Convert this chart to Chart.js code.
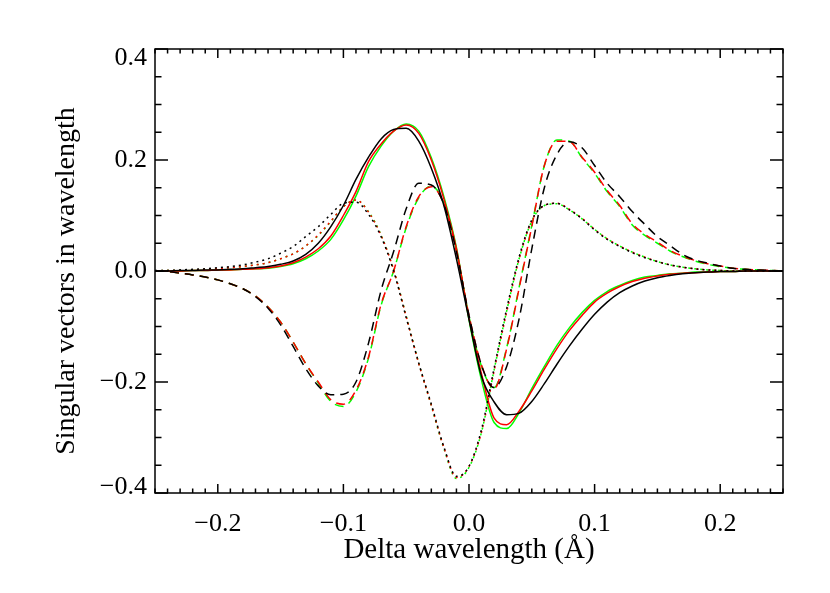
<!DOCTYPE html>
<html>
<head>
<meta charset="utf-8">
<script src="https://cdn.jsdelivr.net/npm/chart.js@4.4.0/dist/chart.umd.min.js"></script>
<style>
  html, body { margin: 0; padding: 0; background: #fff; }
</style>
</head>
<body>
<canvas id="chart" width="830" height="593"></canvas>
<script>
// wavelength offsets (Å), sampled every 0.01
const waves = [-0.25, -0.24, -0.23, -0.22, -0.21, -0.20, -0.19, -0.18, -0.17, -0.16,
  -0.15, -0.14, -0.13, -0.12, -0.11, -0.10, -0.09, -0.08, -0.07, -0.06,
  -0.05, -0.04, -0.03, -0.02, -0.01, 0.00, 0.01, 0.02, 0.03, 0.04,
  0.05, 0.06, 0.07, 0.08, 0.09, 0.10, 0.11, 0.12, 0.13, 0.14,
  0.15, 0.16, 0.17, 0.18, 0.19, 0.20, 0.21, 0.22, 0.23, 0.24, 0.25];

// first singular vector (solid)
const solidBlack = [0, 0, 0.001, 0.001, 0.002, 0.002, 0.003, 0.004, 0.006, 0.008,
  0.012, 0.018, 0.03, 0.05, 0.08, 0.118, 0.165, 0.205, 0.238, 0.255,
  0.257, 0.234, 0.185, 0.118, 0.022, -0.087, -0.19, -0.236, -0.259, -0.256,
  -0.235, -0.203, -0.168, -0.135, -0.105, -0.078, -0.056, -0.039, -0.027, -0.018,
  -0.012, -0.008, -0.005, -0.003, -0.002, -0.001, -0.001, 0, 0, 0, 0];
const solidRed = [0, 0, 0, 0.001, 0.001, 0.002, 0.002, 0.003, 0.004, 0.006,
  0.009, 0.015, 0.025, 0.04, 0.063, 0.1, 0.143, 0.197, 0.229, 0.252,
  0.263, 0.248, 0.2, 0.13, 0.04, -0.085, -0.186, -0.265, -0.277, -0.252,
  -0.216, -0.177, -0.14, -0.107, -0.08, -0.056, -0.04, -0.028, -0.019, -0.013,
  -0.009, -0.006, -0.004, -0.003, -0.002, -0.001, -0.001, 0, 0, 0, 0];
const solidGreen = [0, 0, 0, 0.001, 0.001, 0.002, 0.002, 0.003, 0.004, 0.005,
  0.008, 0.013, 0.022, 0.036, 0.057, 0.092, 0.135, 0.188, 0.225, 0.252,
  0.265, 0.252, 0.204, 0.134, 0.042, -0.088, -0.197, -0.273, -0.284, -0.255,
  -0.212, -0.172, -0.134, -0.102, -0.075, -0.053, -0.037, -0.026, -0.017, -0.011,
  -0.008, -0.005, -0.004, -0.002, -0.002, -0.001, -0.001, 0, 0, 0, 0];

// second singular vector (dashed)
const dashBlack = [0, -0.001, -0.004, -0.007, -0.011, -0.016, -0.023, -0.032, -0.046, -0.067,
  -0.097, -0.136, -0.176, -0.207, -0.223, -0.222, -0.2, -0.13, -0.035, 0.035,
  0.112, 0.158, 0.155, 0.12, 0.035, -0.08, -0.17, -0.21, -0.172, -0.085,
  0.04, 0.15, 0.21, 0.233, 0.222, 0.19, 0.158, 0.134, 0.107, 0.084,
  0.062, 0.046, 0.03, 0.02, 0.014, 0.009, 0.005, 0.003, 0.002, 0.001, 0];
const dashRed = [0, -0.001, -0.004, -0.007, -0.011, -0.016, -0.023, -0.032, -0.045, -0.065,
  -0.092, -0.128, -0.167, -0.2, -0.232, -0.24, -0.215, -0.155, -0.06, 0.0,
  0.08, 0.134, 0.152, 0.12, 0.035, -0.08, -0.17, -0.212, -0.14, -0.03,
  0.08, 0.19, 0.234, 0.233, 0.205, 0.178, 0.145, 0.118, 0.085, 0.066,
  0.052, 0.037, 0.027, 0.019, 0.013, 0.009, 0.005, 0.003, 0.002, 0.001, 0];
const dashGreen = [0, -0.001, -0.004, -0.007, -0.011, -0.016, -0.023, -0.032, -0.045, -0.065,
  -0.092, -0.128, -0.167, -0.202, -0.235, -0.244, -0.218, -0.157, -0.062, 0.0,
  0.078, 0.132, 0.153, 0.122, 0.037, -0.082, -0.172, -0.21, -0.138, -0.028,
  0.082, 0.19, 0.236, 0.234, 0.204, 0.176, 0.143, 0.116, 0.083, 0.064,
  0.05, 0.036, 0.026, 0.018, 0.012, 0.008, 0.005, 0.003, 0.002, 0.001, 0];

// third singular vector (dotted)
const dotBlack = [0.001, 0.001, 0.002, 0.003, 0.004, 0.006, 0.008, 0.011, 0.016, 0.022,
  0.032, 0.044, 0.062, 0.08, 0.102, 0.122, 0.124, 0.102, 0.062, 0.0,
  -0.084, -0.166, -0.24, -0.317, -0.37, -0.352, -0.285, -0.175, -0.068, 0.026,
  0.092, 0.118, 0.122, 0.11, 0.094, 0.074, 0.057, 0.044, 0.033, 0.024,
  0.017, 0.011, 0.007, 0.004, 0.002, 0.001, 0, 0, 0, 0, 0];
const dotRed = [0, 0.001, 0.001, 0.002, 0.003, 0.004, 0.006, 0.008, 0.011, 0.015,
  0.022, 0.031, 0.045, 0.065, 0.09, 0.116, 0.128, 0.106, 0.064, 0.002,
  -0.082, -0.167, -0.242, -0.318, -0.372, -0.352, -0.29, -0.18, -0.074, 0.022,
  0.09, 0.118, 0.122, 0.111, 0.095, 0.075, 0.058, 0.045, 0.034, 0.025,
  0.017, 0.011, 0.007, 0.004, 0.002, 0.001, 0, 0, 0, 0, 0];
const dotGreen = [0, 0.001, 0.001, 0.002, 0.003, 0.004, 0.006, 0.008, 0.011, 0.015,
  0.022, 0.031, 0.045, 0.064, 0.089, 0.116, 0.128, 0.107, 0.065, 0.002,
  -0.081, -0.166, -0.243, -0.32, -0.374, -0.354, -0.29, -0.178, -0.072, 0.023,
  0.09, 0.118, 0.121, 0.11, 0.094, 0.075, 0.058, 0.045, 0.034, 0.025,
  0.017, 0.011, 0.007, 0.004, 0.002, 0.001, 0, 0, 0, 0, 0];

const xTicks = [-0.2, -0.1, 0.0, 0.1, 0.2];
const yTicks = [-0.4, -0.2, 0.0, 0.2, 0.4];
const yTitle = 'Singular vectors in wavelength';
const xTitle = 'Delta wavelength (Å)';

const serif = '"Liberation Serif", "DejaVu Serif", serif';
const fmt = v => (v < -1e-9 ? '\u2212' : '') + Math.abs(v).toFixed(1);

const series = (data, color, dash) => ({
  data: waves.map((w, i) => ({ x: w, y: data[i] })),
  borderColor: color,
  borderWidth: 1.5,
  borderDash: dash,
  pointRadius: 0,
  fill: false,
  cubicInterpolationMode: 'monotone',
});

// frame, inward ticks on all four sides, y labels and y title (IDL style)
const frameTicks = {
  id: 'frameTicks',
  afterDatasetsDraw(chart) {
    const { ctx, chartArea: a, scales: { x, y } } = chart;
    ctx.save();
    ctx.strokeStyle = '#000';
    ctx.lineWidth = 1.5;
    ctx.beginPath();
    for (let i = 0; i <= 50; i++) {
      const px = x.getPixelForValue(-0.25 + i * 0.01);
      const len = i % 10 === 5 ? 9 : 4.5;
      ctx.moveTo(px, a.bottom); ctx.lineTo(px, a.bottom - len);
      ctx.moveTo(px, a.top); ctx.lineTo(px, a.top + len);
    }
    for (let j = 0; j <= 16; j++) {
      const py = y.getPixelForValue(-0.4 + j * 0.05);
      const len = j % 4 === 0 ? 13 : 6.5;
      ctx.moveTo(a.left, py); ctx.lineTo(a.left + len, py);
      ctx.moveTo(a.right, py); ctx.lineTo(a.right - len, py);
    }
    ctx.stroke();
    ctx.strokeRect(a.left, a.top, a.right - a.left, a.bottom - a.top);

    // y tick labels; the end ones sit inside the frame
    ctx.fillStyle = '#000';
    ctx.font = '26px ' + serif;
    ctx.textAlign = 'right';
    ctx.textBaseline = 'middle';
    yTicks.forEach(v => {
      const py = Math.min(Math.max(y.getPixelForValue(v), a.top + 9), a.bottom - 6);
      ctx.fillText(fmt(v), a.left - 8, py);
    });

    ctx.font = '28px ' + serif;
    ctx.textAlign = 'center';
    ctx.translate(67, (a.top + a.bottom) / 2 + 10);
    ctx.rotate(-Math.PI / 2);
    ctx.fillText(yTitle, 0, 0);
    ctx.restore();
  }
};

new Chart(document.getElementById('chart'), {
  type: 'line',
  data: {
    datasets: [
      series(solidBlack, '#000000', []),
      series(dashBlack, '#000000', [9, 6]),
      series(dotBlack, '#000000', [2, 4]),
      series(solidRed, '#ff0000', []),
      series(dashRed, '#ff0000', [9, 6]),
      series(dotRed, '#ff0000', [2, 4]),
      series(solidGreen, '#00ff00', []),
      series(dashGreen, '#00ff00', [9, 6]),
      series(dotGreen, '#00ff00', [2, 4]),
    ],
  },
  options: {
    responsive: false,
    animation: false,
    devicePixelRatio: 1,
    layout: { padding: { top: 49, right: 47, left: 0, bottom: 0 } },
    plugins: { legend: { display: false }, tooltip: { enabled: false } },
    scales: {
      x: {
        type: 'linear',
        min: -0.25,
        max: 0.25,
        grid: { display: false, drawTicks: false },
        border: { display: false },
        afterBuildTicks: s => { s.ticks = xTicks.map(v => ({ value: v })); },
        afterFit: s => { s.height = 100; },
        ticks: {
          padding: 16,
          color: '#000',
          maxRotation: 0,
          font: { family: serif, size: 26 },
          callback: v => fmt(v),
        },
        title: {
          display: true,
          text: xTitle,
          color: '#000',
          font: { family: serif, size: 29 },
          padding: { top: 0, bottom: 25 },
        },
      },
      y: {
        type: 'linear',
        min: -0.4,
        max: 0.4,
        grid: { display: false, drawTicks: false },
        border: { display: false },
        afterBuildTicks: s => { s.ticks = yTicks.map(v => ({ value: v })); },
        afterFit: s => { s.width = 155; },
        ticks: { display: false },
      },
    },
  },
  plugins: [frameTicks],
});
</script>
</body>
</html>
